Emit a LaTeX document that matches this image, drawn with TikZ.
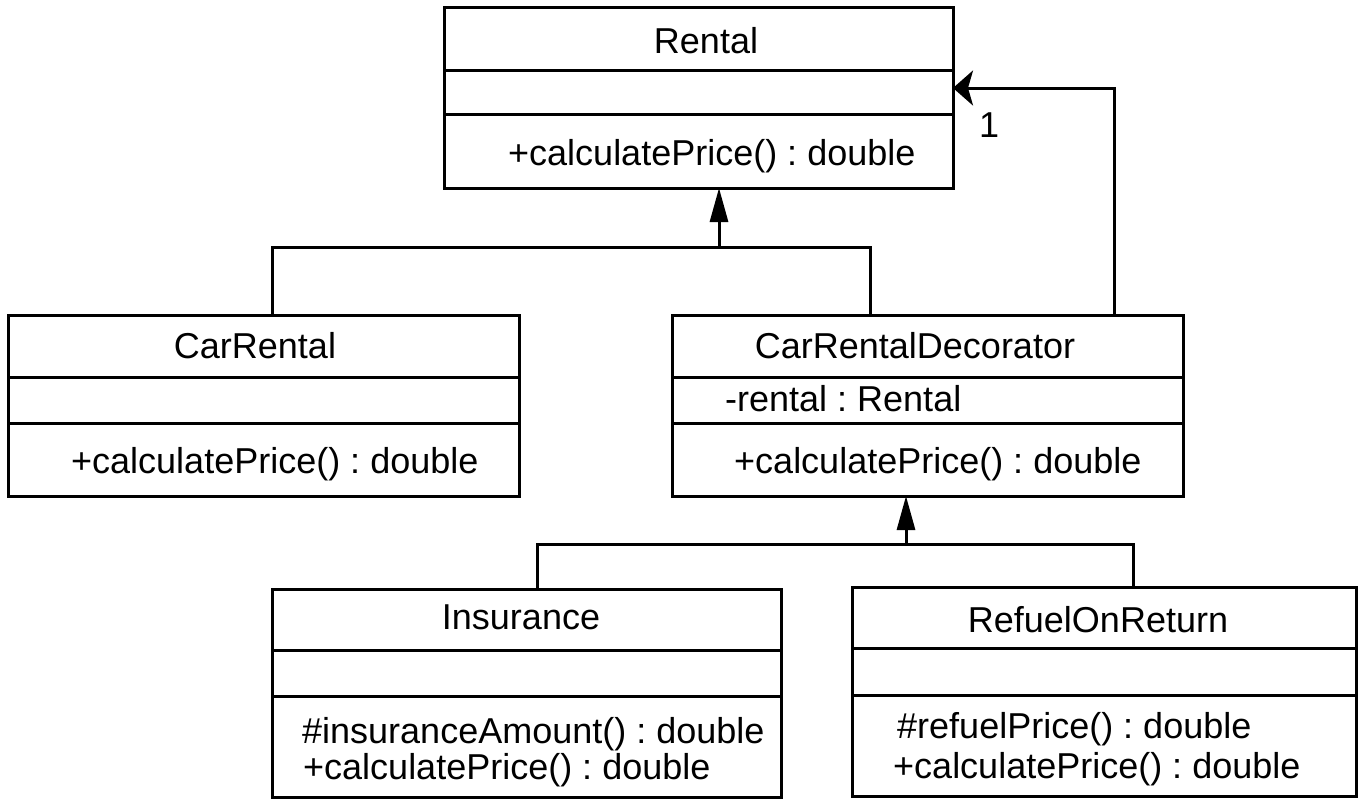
\documentclass[tikz,border=0pt]{standalone}
\usepackage{fontspec}
\setmainfont{Liberation Sans}
\usetikzlibrary{arrows.meta}
\frenchspacing
\begin{document}
\begin{tikzpicture}[x=1pt,y=-1pt,
  classbox/.style={draw, line width=3pt, rectangle, inner sep=0pt, outer sep=0pt, anchor=north west},
  sep/.style={line width=3pt},
  txt/.style={inner sep=0pt, font=\fontsize{36}{40}\selectfont},
  conn/.style={line width=3pt},
  gen/.style={conn, -{Triangle[length=34pt,width=18pt]}},
  nav/.style={conn, {Stealth[length=20pt,width=35pt,inset=5pt]}-}]
\useasboundingbox (0,0) rectangle (1367,800);

% class boxes
\node[classbox, minimum width=509pt, minimum height=180pt] (rental) at (444,8) {};
\node[classbox, minimum width=511pt, minimum height=181pt] (carrental) at (8,315) {};
\node[classbox, minimum width=511pt, minimum height=181pt] (crd) at (672,315) {};
\node[classbox, minimum width=509pt, minimum height=208pt] (ins) at (272,589) {};
\node[classbox, minimum width=504pt, minimum height=209pt] (ref) at (852,587) {};

% compartment dividers
\draw[sep] (rental.west |- 0,70) -- (rental.east |- 0,70);
\draw[sep] (rental.west |- 0,114) -- (rental.east |- 0,114);
\draw[sep] (carrental.west |- 0,377) -- (carrental.east |- 0,377);
\draw[sep] (carrental.west |- 0,423) -- (carrental.east |- 0,423);
\draw[sep] (crd.west |- 0,377) -- (crd.east |- 0,377);
\draw[sep] (crd.west |- 0,423) -- (crd.east |- 0,423);
\draw[sep] (ins.west |- 0,650) -- (ins.east |- 0,650);
\draw[sep] (ins.west |- 0,696) -- (ins.east |- 0,696);
\draw[sep] (ref.west |- 0,648) -- (ref.east |- 0,648);
\draw[sep] (ref.west |- 0,695) -- (ref.east |- 0,695);

% texts
\node[txt, anchor=base] (rentalname) at (706,54) {Rental};
\node[txt, anchor=base west] (rentalop) at (508,165) {+calculatePrice() : double};
\node[txt, anchor=base] (crname) at (255,358) {CarRental};
\node[txt, anchor=base west] (crop) at (71,473) {+calculatePrice() : double};
\node[txt, anchor=base] (crdname) at (915,358) {CarRentalDecorator};
\node[txt, anchor=base west] (crdattr) at (725,411) {-rental : Rental};
\node[txt, anchor=base west] (crdop) at (734,473) {+calculatePrice() : double};
\node[txt, anchor=base] (insname) at (521,629) {Insurance};
\node[txt, anchor=base west] (insop1) at (302,743) {\#insuranceAmount() : double};
\node[txt, anchor=base west] (insop2) at (303,779) {+calculatePrice() : double};
\node[txt, anchor=base] (refname) at (1098,632) {RefuelOnReturn};
\node[txt, anchor=base west] (refop1) at (897,738) {\#refuelPrice() : double};
\node[txt, anchor=base west] (refop2) at (893,778) {+calculatePrice() : double};
\node[txt, anchor=base west] (mult) at (979,137) {1};

% generalization: CarRental, CarRentalDecorator -> Rental
\coordinate (g1) at (719,247);
\coordinate (g1l) at (272,247);
\coordinate (g1r) at (870,247);
\draw[conn] (g1l |- carrental.north) -- (g1l) -- (g1r) -- (g1r |- crd.north);
\draw[gen] (g1) -- (g1 |- rental.south);

% generalization: Insurance, RefuelOnReturn -> CarRentalDecorator
\coordinate (g2) at (906,544);
\coordinate (g2l) at (537,544);
\coordinate (g2r) at (1133,544);
\draw[conn] (g2l |- ins.north) -- (g2l) -- (g2r) -- (g2r |- ref.north);
\draw[gen] (g2) -- (g2 |- crd.south);

% association CarRentalDecorator -> Rental
\coordinate (a1) at (1114,88);
\draw[nav] (rental.east |- a1) -- (a1) -- (a1 |- crd.north);
\end{tikzpicture}
\end{document}
